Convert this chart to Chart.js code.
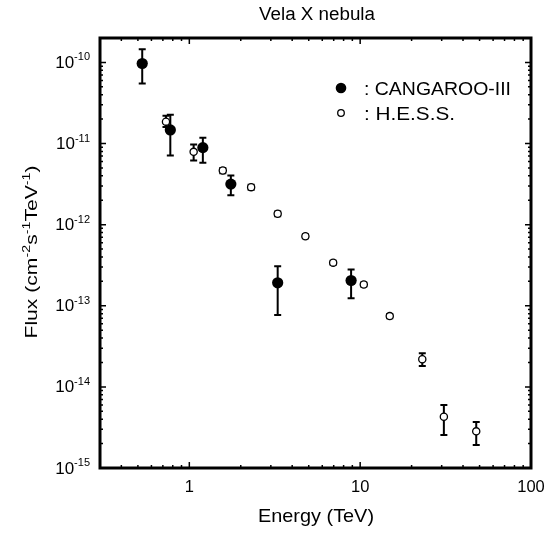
<!DOCTYPE html>
<html lang="en">
<head>
  <meta charset="UTF-8" />
  <title>Vela X nebula</title>
  <script src="https://cdn.jsdelivr.net/npm/chart.js"></script>
  <style>
    body { margin: 0; background: #fff; }
    #wrap { width: 547px; height: 533px; }
  </style>
</head>
<body>
  <div id="wrap"><canvas id="c" width="547" height="533"></canvas></div>

  <script>
    // CANGAROO-III points (energy TeV, flux, error bar top / bottom)
    const cangE  = [0.53, 0.774, 1.2, 1.75, 3.29, 8.85];
    const cangF  = [9.7e-11, 1.47e-11, 8.9e-12, 3.16e-12, 1.92e-13, 2.05e-13];
    const cangHi = [1.45e-10, 2.27e-11, 1.18e-11, 4.04e-12, 3.07e-13, 2.8e-13];
    const cangLo = [5.5e-11, 7.1e-12, 5.8e-12, 2.3e-12, 7.7e-14, 1.24e-13];

    // H.E.S.S. points
    const hessE  = [0.73, 1.06, 1.57, 2.3, 3.29, 4.78, 6.95, 10.5, 14.9, 23.1, 30.9, 47.8];
    const hessF  = [1.86e-11, 7.9e-12, 4.65e-12, 2.9e-12, 1.36e-12, 7.2e-13, 3.4e-13, 1.83e-13, 7.46e-14, 2.19e-14, 4.28e-15, 2.83e-15];
    const hessHi = [2.2e-11, 9.7e-12, 5.0e-12, 3.1e-12, 1.45e-12, 7.6e-13, 3.6e-13, 1.93e-13, 7.9e-14, 2.6e-14, 6.0e-15, 3.7e-15];
    const hessLo = [1.6e-11, 6.2e-12, 4.3e-12, 2.7e-12, 1.27e-12, 6.8e-13, 3.2e-13, 1.73e-13, 7.0e-14, 1.81e-14, 2.55e-15, 1.92e-15];

    const xTicks = [1, 10, 100];
    const xTickLabels = ['1', '10', '100'];
    const yTicks = [1e-10, 1e-11, 1e-12, 1e-13, 1e-14, 1e-15];
    const yTickExp = ['-10', '-11', '-12', '-13', '-14', '-15'];

    const FONT = '"Liberation Sans", Arial, Helvetica, sans-serif';

    function toPoints(xs, ys) {
      return xs.map((x, i) => ({ x: x, y: ys[i] }));
    }

    // text stretched sideways to a given width (the original lettering is a bit wide)
    function wideText(ctx, text, x, y, size, width, align) {
      ctx.save();
      ctx.font = size + 'px ' + FONT;
      ctx.textBaseline = 'alphabetic';
      ctx.textAlign = 'left';
      const w = ctx.measureText(text).width;
      const k = width / w;
      let x0 = x;
      if (align === 'center') x0 = x - width / 2;
      ctx.translate(x0, y);
      ctx.scale(k, 1);
      ctx.fillText(text, 0, 0);
      ctx.restore();
    }

    function drawErrors(ctx, xs, lo, hi, sx, sy) {
      ctx.save();
      ctx.strokeStyle = '#000';
      ctx.lineWidth = 2;
      for (let i = 0; i < xs.length; i++) {
        const px = sx.getPixelForValue(xs[i]);
        const pt = sy.getPixelForValue(hi[i]);
        const pb = sy.getPixelForValue(lo[i]);
        ctx.beginPath();
        ctx.moveTo(px, pt); ctx.lineTo(px, pb);
        ctx.moveTo(px - 3.5, pt); ctx.lineTo(px + 3.5, pt);
        ctx.moveTo(px - 3.5, pb); ctx.lineTo(px + 3.5, pb);
        ctx.stroke();
      }
      ctx.restore();
    }

    const decor = {
      id: 'decor',
      beforeDatasetsDraw(chart) {
        const ctx = chart.ctx, sx = chart.scales.x, sy = chart.scales.y;
        drawErrors(ctx, cangE, cangLo, cangHi, sx, sy);
        drawErrors(ctx, hessE, hessLo, hessHi, sx, sy);
      },
      afterDraw(chart) {
        const ctx = chart.ctx, a = chart.chartArea;
        const sx = chart.scales.x, sy = chart.scales.y;
        ctx.save();
        ctx.strokeStyle = '#000';
        ctx.fillStyle = '#000';

        // tick marks, pointing inward on all four sides
        ctx.lineWidth = 1.5;
        ctx.beginPath();
        for (let d = -1; d <= 2; d++) {
          for (let m = 1; m <= 9; m++) {
            const v = m * Math.pow(10, d);
            if (v < sx.min || v > sx.max) continue;
            const px = sx.getPixelForValue(v);
            const len = m === 1 ? 6 : 3;
            ctx.moveTo(px, a.bottom); ctx.lineTo(px, a.bottom - len);
            ctx.moveTo(px, a.top); ctx.lineTo(px, a.top + len);
          }
        }
        for (let d = -15; d <= -10; d++) {
          for (let m = 1; m <= 9; m++) {
            const v = m * Math.pow(10, d);
            if (v < sy.min * 0.999 || v > sy.max * 1.001) continue;
            const py = sy.getPixelForValue(v);
            const len = m === 1 ? 6 : 3;
            ctx.moveTo(a.left, py); ctx.lineTo(a.left + len, py);
            ctx.moveTo(a.right, py); ctx.lineTo(a.right - len, py);
          }
        }
        ctx.stroke();

        // frame
        ctx.lineWidth = 3;
        ctx.strokeRect(a.left, a.top, a.right - a.left, a.bottom - a.top);

        // x tick labels
        ctx.font = '16.5px ' + FONT;
        ctx.textAlign = 'center';
        ctx.textBaseline = 'alphabetic';
        xTicks.forEach((v, i) => {
          ctx.fillText(xTickLabels[i], sx.getPixelForValue(v), 492);
        });

        // y tick labels: 10 with the exponent raised
        yTicks.forEach((v, i) => {
          const py = sy.getPixelForValue(v);
          ctx.textAlign = 'right';
          ctx.font = '11px ' + FONT;
          const sw = ctx.measureText(yTickExp[i]).width;
          ctx.fillText(yTickExp[i], 90, py - 2);
          ctx.font = '17px ' + FONT;
          ctx.fillText('10', 90 - sw, py + 5.5);
        });

        // titles
        wideText(ctx, 'Vela X nebula', 317, 20, 18, 116, 'center');
        wideText(ctx, 'Energy (TeV)', 316, 522, 18.5, 116, 'center');

        // y axis title, rotated
        ctx.save();
        ctx.translate(36.5, 252);
        ctx.rotate(-Math.PI / 2);
        const parts = [['Flux (cm', false], ['-2', true], ['s', false], ['-1', true], ['TeV', false], ['-1', true], [')', false]];
        let total = 0;
        parts.forEach(p => {
          ctx.font = (p[1] ? 11.5 : 17) + 'px ' + FONT;
          total += ctx.measureText(p[0]).width;
        });
        ctx.scale(173 / total, 1);
        let cx = -total / 2;
        ctx.textAlign = 'left';
        ctx.textBaseline = 'alphabetic';
        parts.forEach(p => {
          ctx.font = (p[1] ? 11.5 : 17) + 'px ' + FONT;
          ctx.fillText(p[0], cx, p[1] ? -7 : 0);
          cx += ctx.measureText(p[0]).width;
        });
        ctx.restore();

        // legend
        ctx.beginPath();
        ctx.arc(341, 88, 5.3, 0, Math.PI * 2);
        ctx.fill();
        ctx.beginPath();
        ctx.lineWidth = 1.3;
        ctx.fillStyle = '#fff';
        ctx.arc(341, 113, 3.3, 0, Math.PI * 2);
        ctx.fill();
        ctx.stroke();
        ctx.fillStyle = '#000';
        wideText(ctx, ': CANGAROO-III', 364, 94.5, 17.5, 147, 'left');
        wideText(ctx, ': H.E.S.S.', 364, 119.5, 17.5, 91, 'left');

        ctx.restore();
      }
    };

    new Chart(document.getElementById('c').getContext('2d'), {
      type: 'scatter',
      data: {
        datasets: [
          {
            label: 'H.E.S.S.',
            data: toPoints(hessE, hessF),
            pointRadius: 3.6,
            pointBackgroundColor: '#fff',
            pointBorderColor: '#000',
            pointBorderWidth: 1.3
          },
          {
            label: 'CANGAROO-III',
            data: toPoints(cangE, cangF),
            pointRadius: 5.6,
            pointBackgroundColor: '#000',
            pointBorderColor: '#000',
            pointBorderWidth: 0
          }
        ]
      },
      options: {
        responsive: false,
        animation: false,
        layout: { padding: { left: 100, right: 16, top: 38, bottom: 65 } },
        plugins: {
          legend: { display: false },
          tooltip: { enabled: false }
        },
        scales: {
          x: { type: 'logarithmic', min: 0.3, max: 100, display: false },
          y: { type: 'logarithmic', min: 1e-15, max: 2e-10, display: false }
        }
      },
      plugins: [decor]
    });
  </script>
</body>
</html>
